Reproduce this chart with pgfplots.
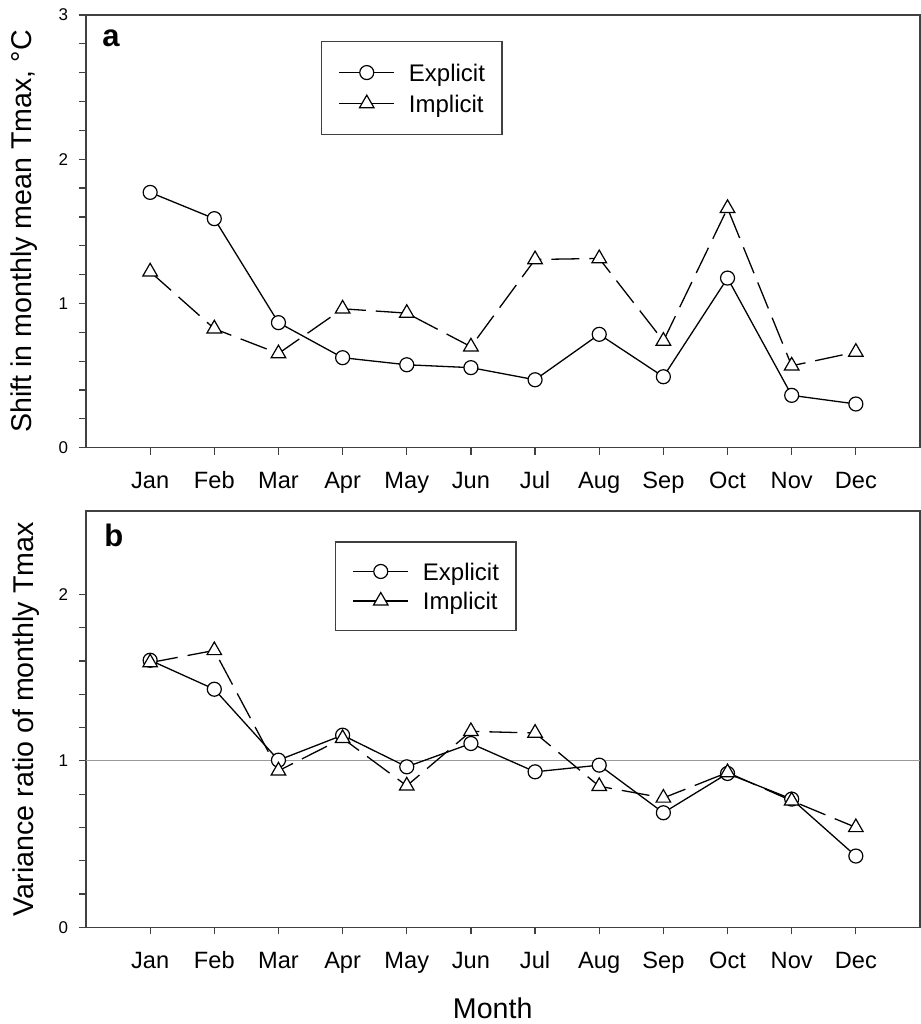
\documentclass[border=0pt]{standalone}
\usepackage{pgfplots}
\pgfplotsset{compat=1.18}
\usepackage{fontspec}
\setmainfont{Liberation Sans}
\begin{document}
\begin{tikzpicture}
\useasboundingbox (0,0) rectangle (460.5pt,512pt);
\pgfplotsset{
 myaxis/.style={
  scale only axis, width=417pt, xmin=0, xmax=13, ymin=0,
  axis line style={black!75, line width=0.65pt},
  xtick={1,...,12},
  xticklabels={Jan,Feb,Mar,Apr,May,Jun,Jul,Aug,Sep,Oct,Nov,Dec},
  tick align=outside, tick pos=left,
  major tick length=3.5pt, minor tick length=3.5pt,
  every tick/.style={black!75, line width=0.6pt},
  minor y tick num=4,
  /pgf/number format/assume math mode=true,
  xticklabel style={font=\fontsize{11.8}{14}\selectfont, anchor=base, yshift=-17pt},
  yticklabel style={font=\fontsize{8.5}{10}\selectfont, anchor=east, inner sep=0pt, xshift=-5.2pt},
  every axis y label/.style={font=\fontsize{14.3}{17}\selectfont, rotate=90, anchor=base},
  every axis x label/.style={font=\fontsize{14.3}{17}\selectfont, anchor=base, at={(axis description cs:0.4877,0)}, yshift=-45.5pt},
  legend cell align=left,
  legend image code/.code={\draw[mark repeat=2,mark phase=2,solid] plot coordinates {(0pt,0pt)(13.75pt,0pt)(27.5pt,0pt)};},
 },
 expl/.style={black, line width=0.65pt, solid, mark=*, mark size=3.5pt, mark options={fill=white, draw=black, solid, line width=0.6pt}},
 impl/.style={black, line width=0.65pt, dash pattern=on 14pt off 5pt, mark=triangle*, mark size=4.2pt, mark options={fill=white, draw=black, solid, line width=0.6pt}},
}
\begin{axis}[myaxis, at={(43pt,288.15pt)}, anchor=south west, height=216.35pt,
  ymax=3, ytick={0,1,2,3},
  ylabel={Shift in monthly mean Tmax, °C},
  every axis y label/.append style={at={(axis description cs:-0.0651,0.5)}},
  legend style={at={(0.2818,0.940)}, anchor=north west, draw=black!75, line width=0.6pt,
    inner xsep=8.5pt, inner ysep=9.5pt, nodes={inner sep=0pt, text height=10.3pt, text depth=1.7pt},
    row sep=3.5pt, font=\fontsize{12}{14}\selectfont, /tikz/every odd column/.append style={column sep=7pt}},
]
\addplot[expl] coordinates {(1,1.770)(2,1.588)(3,0.867)(4,0.624)(5,0.575)(6,0.555)(7,0.471)(8,0.786)(9,0.492)(10,1.176)(11,0.363)(12,0.303)};
\addlegendentry{Explicit}
\addplot[impl] coordinates {(1,1.22)(2,0.825)(3,0.653)(4,0.963)(5,0.933)(6,0.70)(7,1.305)(8,1.312)(9,0.74)(10,1.66)(11,0.568)(12,0.663)};
\addlegendentry{Implicit}
\node[anchor=base west, inner sep=0pt, font=\fontsize{15.5}{18}\selectfont\bfseries] at (rel axis cs:0,1) [xshift=8pt, yshift=-16pt] {a};
\end{axis}
\begin{axis}[myaxis, at={(43pt,48.35pt)}, anchor=south west, height=208.1pt,
  ymax=2.5, ytick={0,1,2},
  ylabel={Variance ratio of monthly Tmax},
  xlabel={Month},
  every axis y label/.append style={at={(axis description cs:-0.0632,0.5)}},
  legend style={at={(0.2986,0.927)}, anchor=north west, draw=black!75, line width=0.6pt,
    inner xsep=8.5pt, inner ysep=8.7pt, nodes={inner sep=0pt, text height=10.3pt, text depth=1.7pt},
    row sep=2.7pt, font=\fontsize{12}{14}\selectfont, /tikz/every odd column/.append style={column sep=7pt}},
]
\addplot[black!40, line width=0.6pt, forget plot] coordinates {(0,1)(13,1)};
\addplot[expl] coordinates {(1,1.604)(2,1.43)(3,1.004)(4,1.154)(5,0.964)(6,1.104)(7,0.934)(8,0.974)(9,0.688)(10,0.924)(11,0.77)(12,0.428)};
\addlegendentry{Explicit}
\addplot[impl] coordinates {(1,1.59)(2,1.663)(3,0.94)(4,1.135)(5,0.85)(6,1.177)(7,1.167)(8,0.847)(9,0.777)(10,0.93)(11,0.76)(12,0.60)};
\addlegendentry{Implicit}
\node[anchor=base west, inner sep=0pt, font=\fontsize{15.5}{18}\selectfont\bfseries] at (rel axis cs:0,1) [xshift=9pt, yshift=-17.5pt] {b};
\end{axis}
\end{tikzpicture}
\end{document}
